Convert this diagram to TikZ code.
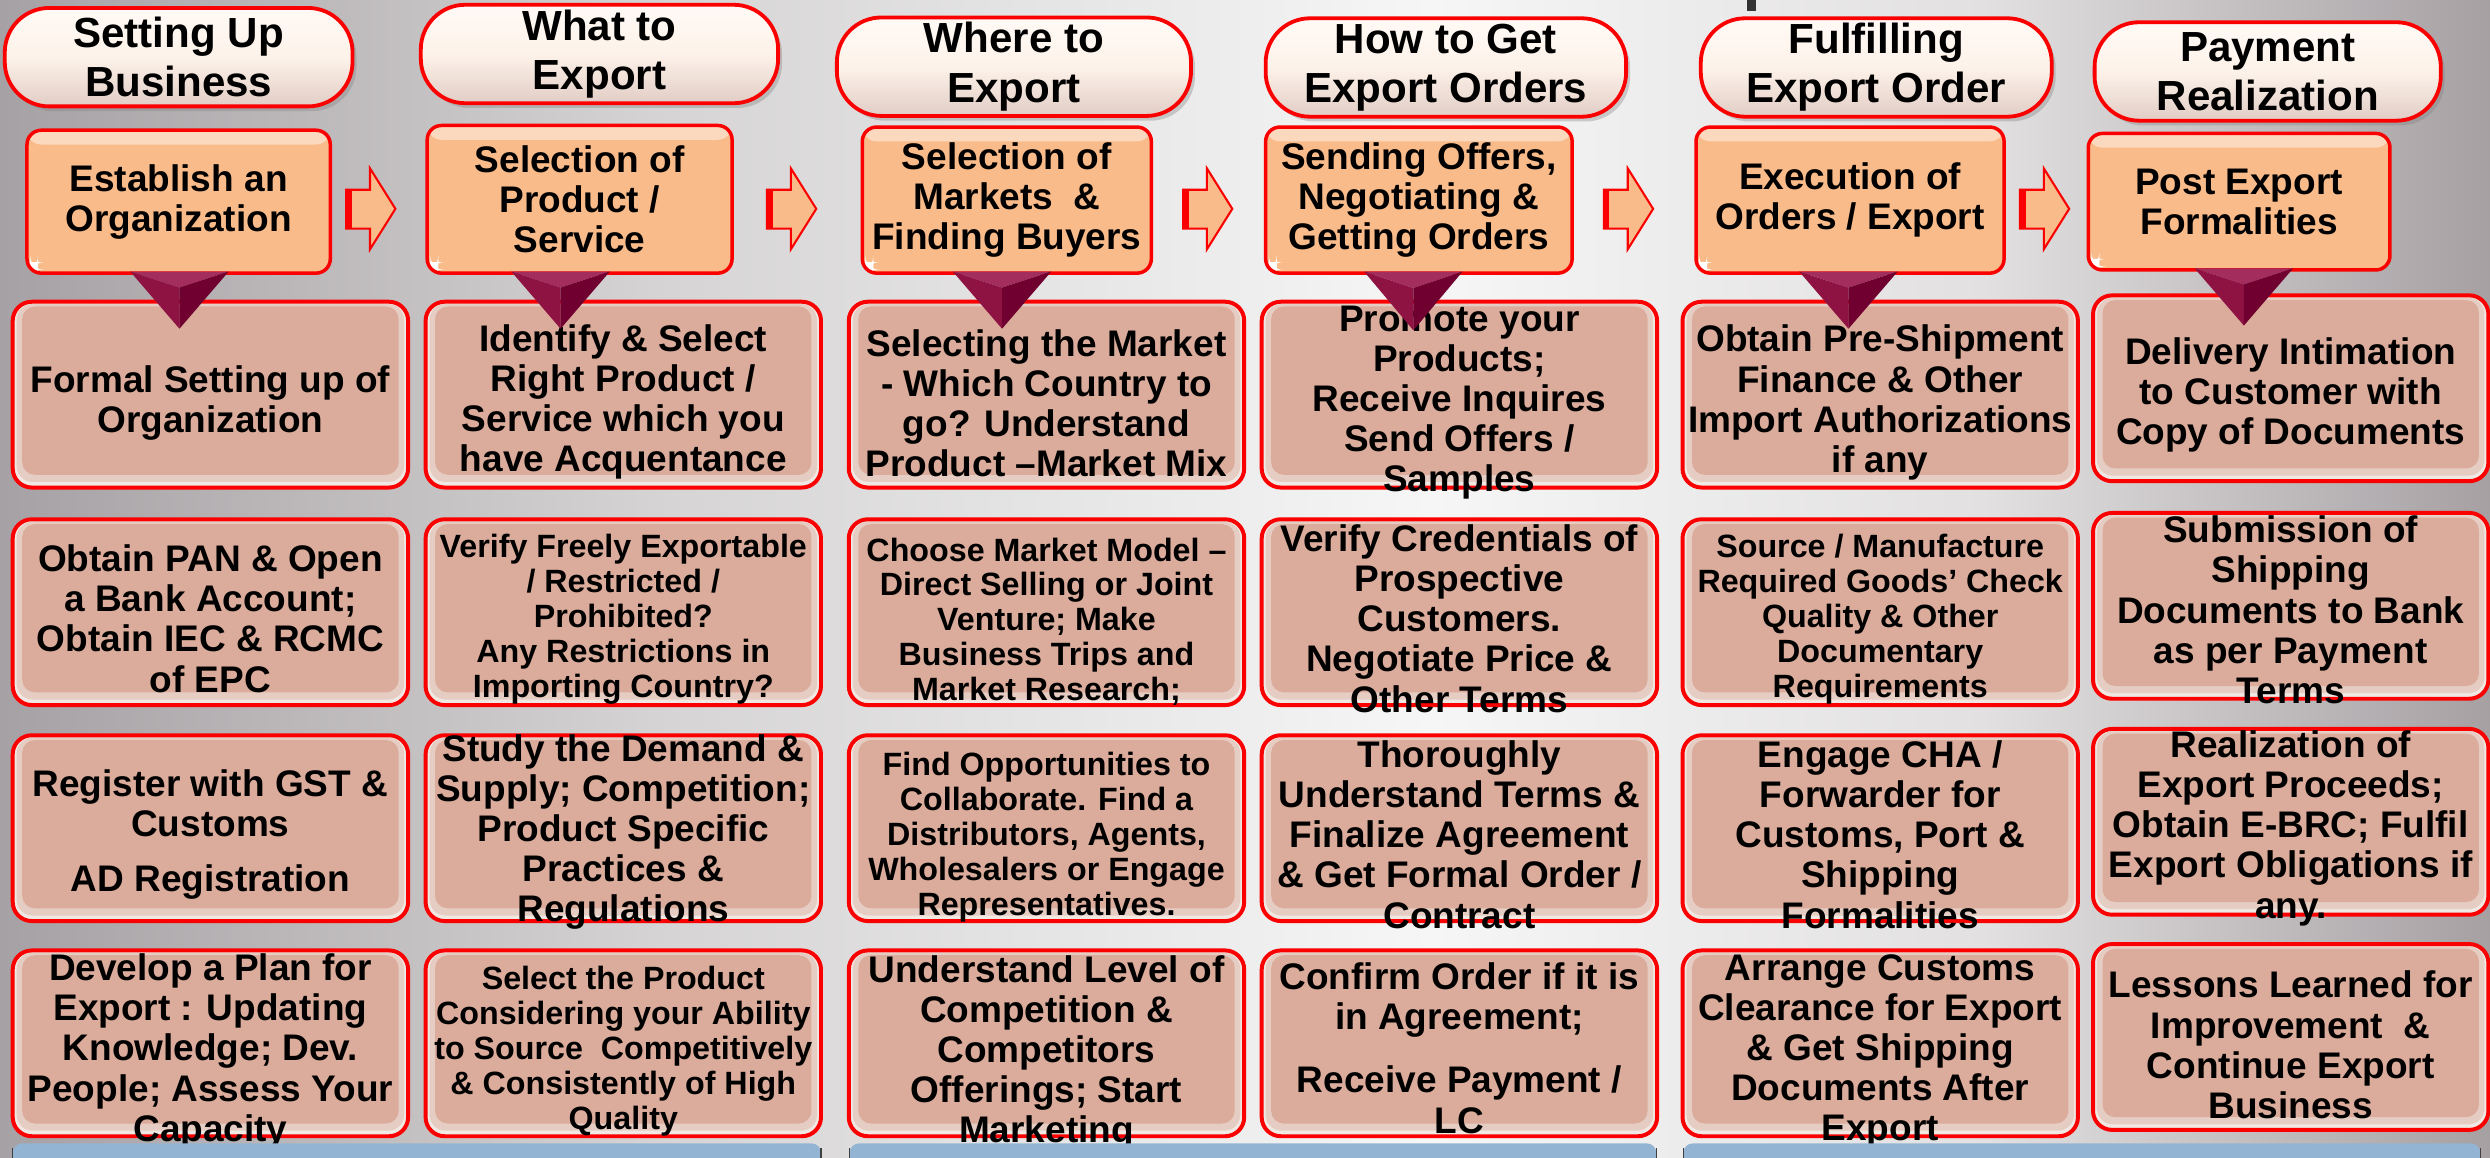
\documentclass[tikz,border=0pt]{standalone}
\usepackage{fontspec}
\setmainfont{Liberation Sans}
\usetikzlibrary{shadows}

\definecolor{bgA}{RGB}{166,161,164}
\definecolor{bgB}{RGB}{214,212,213}
\definecolor{bgC}{RGB}{246,246,246}
\definecolor{bgD}{RGB}{226,224,225}
\definecolor{bgE}{RGB}{166,160,163}
\definecolor{pillmid}{RGB}{253,242,233}
\definecolor{pilltop}{RGB}{255,250,246}
\definecolor{pillbot}{RGB}{225,205,198}
\definecolor{boxred}{RGB}{250,0,0}
\definecolor{orangefill}{RGB}{249,187,138}
\definecolor{salmon}{RGB}{219,172,155}
\definecolor{salmonedge}{RGB}{230,205,195}
\definecolor{glow}{RGB}{240,232,226}
\definecolor{triTop}{RGB}{163,45,92}
\definecolor{triLeft}{RGB}{142,18,66}
\definecolor{triRight}{RGB}{112,0,48}
\definecolor{barblue}{RGB}{147,181,211}

\newcommand\headtxt{\fontsize{26.5}{31}\selectfont\bfseries}
\newcommand\bigtxt{\fontsize{23.3}{25.3}\selectfont\bfseries}
\newcommand\smalltxt{\fontsize{20.3}{22}\selectfont\bfseries}

% faceted downward pointer: centre x, top y, tip y, half width
\newcommand\dropmark[4]{%
  \fill[triTop] ({#1-#4},#2) -- ({#1+#4},#2) -- (#1,{#2+0.28*(#3-#2)}) -- cycle;
  \fill[triLeft] ({#1-#4},#2) -- (#1,{#2+0.28*(#3-#2)}) -- (#1,#3) -- cycle;
  \fill[triRight] ({#1+#4},#2) -- (#1,{#2+0.28*(#3-#2)}) -- (#1,#3) -- cycle;}

% block arrow between the step boxes: left x
\newcommand\flowarrow[1]{%
  \filldraw[fill=orangefill, draw=boxred, line width=1.3pt, line join=miter]
    (#1,119.5) -- ({#1+15},119.5) -- ({#1+15},106) -- ({#1+31},131.5)
    -- ({#1+15},157) -- ({#1+15},144) -- (#1,144) -- cycle;
  \fill[boxred] (#1,119.5) rectangle ({#1+3.5},144);}

\begin{document}
\begin{tikzpicture}[x=1pt,y=-1pt,
  pill/.style={draw=boxred, line width=2.4pt, rounded corners=28pt,
    top color=pilltop, bottom color=pillbot, middle color=pillmid,
    inner sep=0pt, minimum height=62pt,
    drop shadow={shadow xshift=2.5pt, shadow yshift=-3pt, opacity=0.35}},
  obox/.style={draw=boxred, line width=2.2pt, rounded corners=9pt,
    fill=orangefill, inner sep=0pt,
    path picture={
      \fill[white, opacity=0.45] ([yshift=-1pt]path picture bounding box.north west)
        rectangle ([yshift=-9pt]path picture bounding box.north east);
      \fill[white] ([xshift=2pt,yshift=2pt]path picture bounding box.south west)
        rectangle ++(5pt,5pt);}},
  detbox/.style={draw=boxred, line width=2.5pt, rounded corners=12pt,
    fill=glow, inner sep=0pt, minimum width=249pt, minimum height=117pt,
    path picture={
      \fill[salmonedge, rounded corners=10pt]
        ([xshift=2.5pt,yshift=-1.5pt]path picture bounding box.north west)
        rectangle ([xshift=-2.5pt,yshift=3.5pt]path picture bounding box.south east);
      \fill[salmon, rounded corners=8pt]
        ([xshift=6pt,yshift=-3pt]path picture bounding box.north west)
        rectangle ([xshift=-6pt,yshift=8pt]path picture bounding box.south east);}},
  lbl/.style={align=center, inner sep=0pt, text=black},
  big/.style={lbl, font=\bigtxt},
  small/.style={lbl, font=\smalltxt},
  head/.style={lbl, font=\headtxt}
]
\clip (0,0) rectangle (1568,729);
\useasboundingbox (0,0) rectangle (1568,729);

% background
\shade[left color=bgA, right color=bgB] (0,0) rectangle (421,729);
\shade[left color=bgB, right color=bgC] (420,0) rectangle (901,729);
\shade[left color=bgC, right color=bgD] (900,0) rectangle (1251,729);
\shade[left color=bgD, right color=bgE] (1250,0) rectangle (1568,729);
\fill[black!80] (1100,0) rectangle (1106,7);

% stage headings
\node[pill, minimum width=219pt] (h1) at (112.5,36) {};
\node[pill, minimum width=225pt] (h2) at (377.5,34) {};
\node[pill, minimum width=223pt] (h3) at (638.5,42) {};
\node[pill, minimum width=227pt] (h4) at (910.5,42.5) {};
\node[pill, minimum width=221pt] (h5) at (1181.5,42.5) {};
\node[pill, minimum width=218pt] (h6) at (1428,45) {};
\node[head] (ht1) at (h1.center) {Setting Up\\Business};
\node[head] (ht2) at (h2.center) {What to\\Export};
\node[head] (ht3) at (h3.center) {Where to\\Export};
\node[head] (ht4) at (h4.center) {How to Get\\Export Orders};
\node[head] (ht5) at (h5.center) {Fulfilling\\Export Order};
\node[head] (ht6) at (h6.center) {Payment\\Realization};

% main steps
\node[obox, minimum width=191pt, minimum height=90pt] (o1) at (112.5,127) {};
\node[obox, minimum width=192pt, minimum height=93pt] (o2) at (365,125.5) {};
\node[obox, minimum width=182pt, minimum height=92pt] (o3) at (634,126) {};
\node[obox, minimum width=193pt, minimum height=92pt] (o4) at (893.5,126) {};
\node[obox, minimum width=194pt, minimum height=92pt] (o5) at (1165,126) {};
\node[obox, minimum width=190pt, minimum height=86pt] (o6) at (1410,127) {};
\node[big] (ot1) at (o1.center) {Establish an\\Organization};
\node[big] (ot2) at (o2.center) {Selection of\\Product /\\Service};
\node[big] (ot3) at (o3.center) {Selection of\\Markets\ \ \&\\Finding Buyers};
\node[big] (ot4) at (o4.center) {Sending Offers,\\Negotiating \&\\Getting Orders};
\node[big] (ot5) at (o5.center) {Execution of\\Orders / Export};
\node[big] (ot6) at (o6.center) {Post Export\\Formalities};

\flowarrow{218}
\flowarrow{483}
\flowarrow{745}
\flowarrow{1010}
\flowarrow{1272}

% detail boxes, row by row
\foreach \r/\y in {1/248.5, 2/385.5, 3/521.5, 4/657} {
  \node[detbox] (b\r1) at (132.5,\y) {};
  \node[detbox] (b\r2) at (392.5,\y) {};
  \node[detbox] (b\r3) at (659,\y) {};
  \node[detbox] (b\r4) at (919,\y) {};
  \node[detbox] (b\r5) at (1184,\y) {};
  \node[detbox] (b\r6) at (1442.5,\y-4) {};
}

% row 1
\node[big] (t11) at (132.5,254) {Formal Setting up of\\Organization};
\node[big] (t12) at (392.5,253) {Identify \& Select\\Right Product /\\Service which you\\have Acquentance};
\node[big] (t13) at (659,254) {Selecting the Market\\- Which Country to\\go? Understand\\Product –Market Mix};
\node[big] (t14) at (919,253.5) {Promote your\\Products;\\Receive Inquires\\Send Offers /\\Samples};
\node[big] (t15) at (1184,253.5) {Obtain Pre-Shipment\\Finance \& Other\\Import Authorizations\\if any};
\node[big] (t16) at (1442.5,248.5) {Delivery Intimation\\to Customer with\\Copy of Documents};

% row 2
\node[big] (t21) at (132.5,389.5) {Obtain PAN \& Open\\a Bank Account;\\Obtain IEC \& RCMC\\of EPC};
\node[small] (t22) at (392.5,390) {Verify Freely Exportable\\/ Restricted /\\Prohibited?\\Any Restrictions in\\Importing Country?};
\node[small] (t23) at (659,391.5) {Choose Market Model –\\Direct Selling or Joint\\Venture; Make\\Business Trips and\\Market Research;};
\node[big] (t24) at (919,389.5) {Verify Credentials of\\Prospective\\Customers.\\Negotiate Price \&\\Other Terms};
\node[small] (t25) at (1184,390) {Source / Manufacture\\Required Goods’ Check\\Quality \& Other\\Documentary\\Requirements};
\node[big] (t26) at (1442.5,384) {Submission of\\Shipping\\Documents to Bank\\as per Payment\\Terms};

% row 3
\node[big] (t31) at (132.5,525.5) {Register with GST \&\\Customs\\[9pt]AD Registration};
\node[big] (t32) at (392.5,524) {Study the Demand \&\\Supply; Competition;\\Product Specific\\Practices \&\\Regulations};
\node[small] (t33) at (659,527) {Find Opportunities to\\Collaborate. Find a\\Distributors, Agents,\\Wholesalers or Engage\\Representatives.};
\node[big] (t34) at (919,525.5) {Thoroughly\\Understand Terms \&\\Finalize Agreement\\\& Get Formal Order /\\Contract};
\node[big] (t35) at (1184,525.5) {Engage CHA /\\Forwarder for\\Customs, Port \&\\Shipping\\Formalities};
\node[big] (t36) at (1442.5,521.5) {Realization of\\Export Proceeds;\\Obtain E-BRC; Fulfil\\Export Obligations if\\any.};

% row 4
\node[big] (t41) at (132.5,662) {Develop a Plan for\\Export : Updating\\Knowledge; Dev.\\People; Assess Your\\Capacity};
\node[small] (t42) at (392.5,662) {Select the Product\\Considering your Ability\\to Source\ \ Competitively\\\& Consistently of High\\Quality};
\node[big] (t43) at (659,663) {Understand Level of\\Competition \&\\Competitors\\Offerings; Start\\Marketing};
\node[big] (t44) at (919,660) {Confirm Order if it is\\in Agreement;\\[14.5pt]Receive Payment /\\LC};
\node[big] (t45) at (1184,662) {Arrange Customs\\Clearance for Export\\\& Get Shipping\\Documents After\\Export};
\node[big] (t46) at (1442.5,658) {Lessons Learned for\\Improvement\ \ \&\\Continue Export\\Business};

% pointers from each step into its details
\dropmark{113}{171}{207}{31}
\dropmark{353}{171}{207}{31}
\dropmark{631}{171}{207}{31}
\dropmark{890}{171}{208}{31}
\dropmark{1164}{171}{207}{31}
\dropmark{1413}{169}{205}{31}

% blue footer bars
\foreach \xa/\xb in {8/517, 535/1043, 1060/1562} {
  \fill[barblue, rounded corners=6pt] (\xa,740) -- (\xa,720) -- (\xb,720) -- (\xb,740) -- cycle;
  \draw[black!75, line width=0.8pt] (\xa,740) -- (\xa,723);
  \draw[black!75, line width=0.8pt] (\xb,740) -- (\xb,723);
}
\end{tikzpicture}
\end{document}
